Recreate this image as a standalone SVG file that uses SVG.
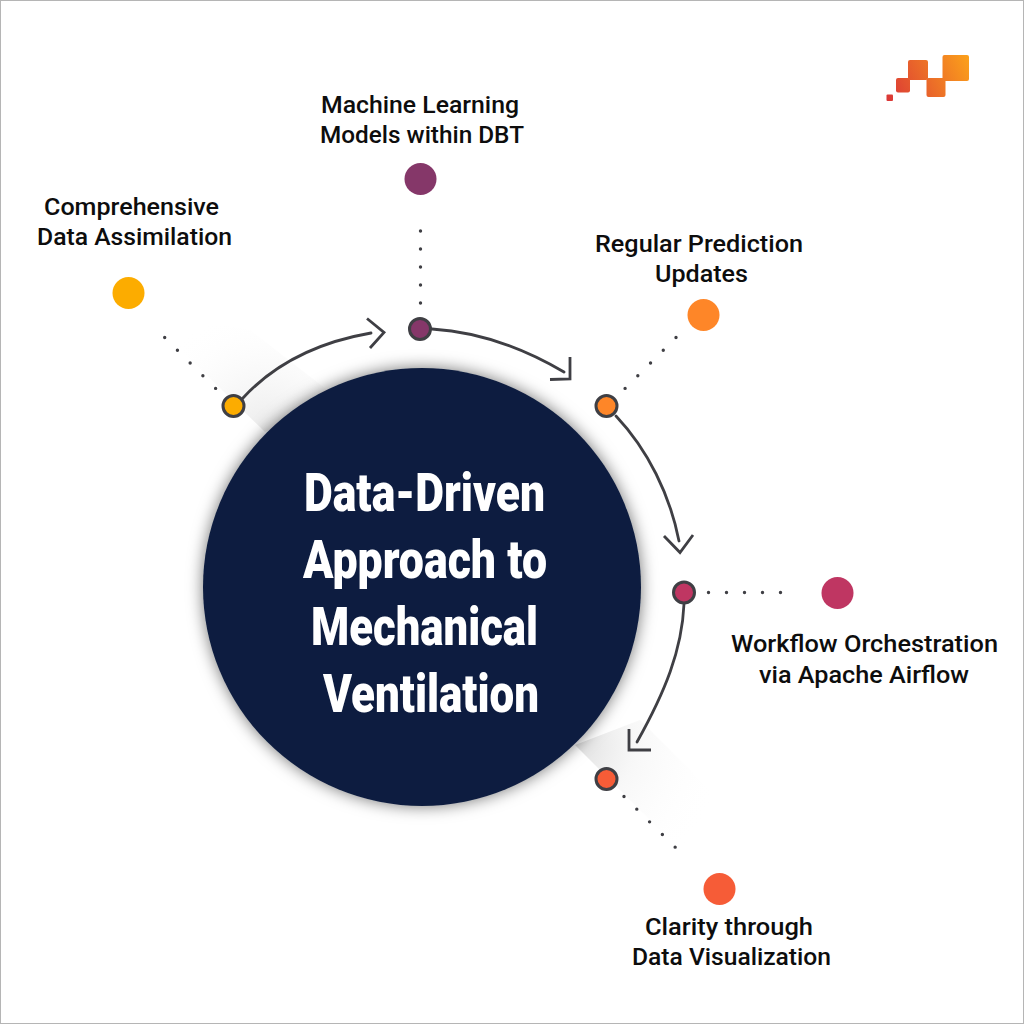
<svg xmlns="http://www.w3.org/2000/svg" width="1024" height="1024" viewBox="0 0 1024 1024">
<style>
.lbl{font-family:Roboto,"Liberation Sans",sans-serif;font-weight:500;font-size:23px;fill:#0d0d0d}
.ttl{font-family:Roboto,"Liberation Sans",sans-serif;font-weight:900;font-size:54px;fill:#fff}
.arc{fill:none;stroke:#3f3f44;stroke-width:2.800;stroke-linecap:round}
.head{fill:none;stroke:#3f3f44;stroke-width:2.800}
.dots{fill:none;stroke:#3f3f44;stroke-width:3.400;stroke-linecap:round;stroke-dasharray:0 18}
.ring{stroke:#3f3f44;stroke-width:3}
</style>
<defs>
<filter id="sh" x="-15%" y="-15%" width="130%" height="130%"><feDropShadow dx="0" dy="0" stdDeviation="8" flood-color="#000" flood-opacity="0.55"/></filter>
<radialGradient id="w1" gradientUnits="userSpaceOnUse" cx="265" cy="432" r="125"><stop offset="0" stop-color="#e2e2e2" stop-opacity=".7"/><stop offset=".5" stop-color="#f3f3f3" stop-opacity=".45"/><stop offset="1" stop-color="#fff" stop-opacity="0"/></radialGradient>
<radialGradient id="w2" gradientUnits="userSpaceOnUse" cx="575" cy="745" r="150"><stop offset="0" stop-color="#d8d8d8" stop-opacity=".85"/><stop offset=".4" stop-color="#f0f0f0" stop-opacity=".5"/><stop offset="1" stop-color="#fff" stop-opacity="0"/></radialGradient>
<linearGradient id="lg" gradientUnits="userSpaceOnUse" x1="886" y1="100" x2="969" y2="60"><stop offset="0" stop-color="#da3537"/><stop offset="1" stop-color="#fb9f1b"/></linearGradient>
</defs>
<rect x="0.500" y="0.500" width="1023" height="1023" fill="#fff" stroke="#b5b5b5"/>
<polygon points="265,432 140,310 250,330 340,400" fill="url(#w1)"/>
<polygon points="575,745 710,880 730,810 640,720" fill="url(#w2)"/>
<g id="logo" fill="url(#lg)">
<rect x="886.500" y="94.500" width="6.500" height="6.500" rx="1"/>
<rect x="896" y="78" width="14" height="14.500" rx="2"/>
<rect x="908" y="60" width="20" height="20" rx="2"/>
<rect x="926.500" y="78" width="19" height="19" rx="2"/>
<rect x="942.500" y="55" width="26.500" height="26" rx="2"/>
</g>
<g id="connectors">
<path class="dots" d="M164.700 337.500L219 391.800"/>
<path class="dots" d="M420.500 231V307"/>
<path class="dots" d="M676 337.500L623.500 390"/>
<path class="dots" d="M708.500 592.500H785"/>
<path class="dots" d="M624 796.500L676 848"/>
<path class="arc" d="M243 398C278 360 325 341 371 333"/>
<path class="head" d="M367 318.500L384 332.500L370 348"/>
<path class="arc" d="M432 329C480 332 525 349 564 372"/>
<path class="head" d="M570 357V379L550 379.500"/>
<path class="arc" d="M616 416C648 450 670 495 679 541"/>
<path class="head" d="M664 536L680 552.500L693 535"/>
<path class="arc" d="M684 604C682 650 665 692 637 742"/>
<path class="head" d="M629 729V750H651"/>
</g>
<g id="hub">
<circle cx="422" cy="587" r="219" fill="#111f3f" filter="url(#sh)"/>
<text class="ttl" x="304" y="511" textLength="241" lengthAdjust="spacingAndGlyphs">Data-Driven</text>
<text class="ttl" x="303" y="578" textLength="244" lengthAdjust="spacingAndGlyphs">Approach to</text>
<text class="ttl" x="311" y="645" textLength="227" lengthAdjust="spacingAndGlyphs">Mechanical</text>
<text class="ttl" x="323" y="712" textLength="216" lengthAdjust="spacingAndGlyphs">Ventilation</text>
</g>
<g id="node-assimilation">
<circle cx="128.500" cy="293" r="16" fill="#fcac00"/>
<circle class="ring" cx="233.500" cy="406" r="10.500" fill="#fcac00"/>
<text class="lbl" x="44" y="215" textLength="175" lengthAdjust="spacingAndGlyphs">Comprehensive</text>
<text class="lbl" x="37" y="245" textLength="195" lengthAdjust="spacingAndGlyphs">Data Assimilation</text>
</g>
<g id="node-ml">
<circle cx="420.500" cy="179" r="16" fill="#853769"/>
<circle class="ring" cx="420" cy="329" r="10.500" fill="#853769"/>
<text class="lbl" x="321" y="113" textLength="198" lengthAdjust="spacingAndGlyphs">Machine Learning</text>
<text class="lbl" x="320" y="143" textLength="204" lengthAdjust="spacingAndGlyphs">Models within DBT</text>
</g>
<g id="node-updates">
<circle cx="703.500" cy="315" r="16" fill="#fe8628"/>
<circle class="ring" cx="606.500" cy="406" r="10.500" fill="#fe8628"/>
<text class="lbl" x="595" y="252" textLength="208" lengthAdjust="spacingAndGlyphs">Regular Prediction</text>
<text class="lbl" x="655" y="282" textLength="93" lengthAdjust="spacingAndGlyphs">Updates</text>
</g>
<g id="node-airflow">
<circle cx="837.500" cy="593" r="16" fill="#bf3662"/>
<circle class="ring" cx="684" cy="592.500" r="10.500" fill="#bf3662"/>
<text class="lbl" x="731" y="652" textLength="267" lengthAdjust="spacingAndGlyphs">Workflow Orchestration</text>
<text class="lbl" x="759" y="683" textLength="210" lengthAdjust="spacingAndGlyphs">via Apache Airflow</text>
</g>
<g id="node-viz">
<circle cx="719.500" cy="889" r="16" fill="#f65c37"/>
<circle class="ring" cx="606.500" cy="779" r="10.500" fill="#f65c37"/>
<text class="lbl" x="645" y="935" textLength="168" lengthAdjust="spacingAndGlyphs">Clarity through</text>
<text class="lbl" x="632" y="965" textLength="199" lengthAdjust="spacingAndGlyphs">Data Visualization</text>
</g>
</svg>
